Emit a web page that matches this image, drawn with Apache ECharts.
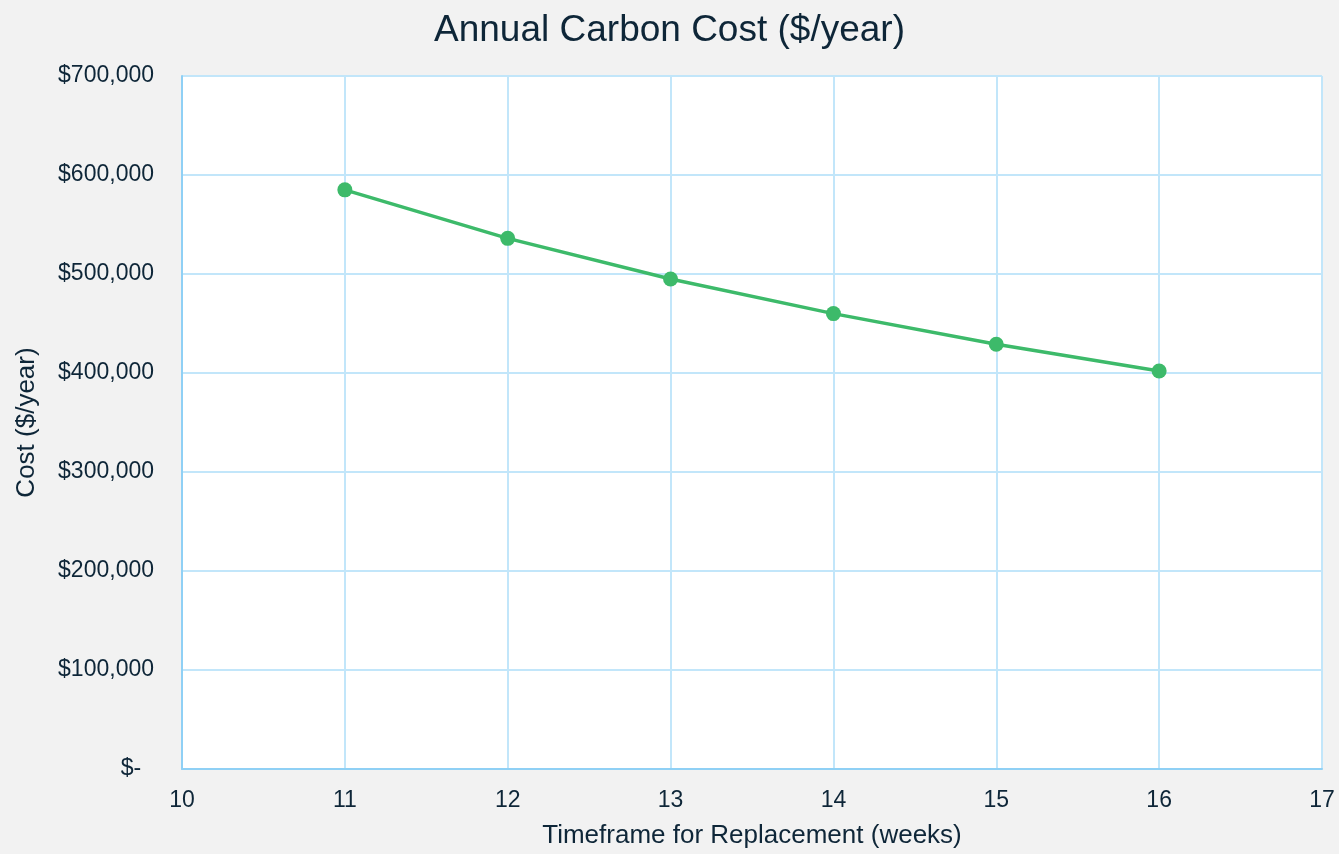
<!DOCTYPE html>
<html>
<head>
<meta charset="utf-8">
<script src="https://cdn.jsdelivr.net/npm/echarts@6/dist/echarts.min.js"></script>
<style>
  html, body { margin: 0; padding: 0; background: #f2f2f2; }
  #chart { width: 1339px; height: 854px; }
</style>
</head>
<body>
<div id="chart"></div>
<script>
// Replacement timeframe (weeks) vs annual carbon cost
const weeks = [11, 12, 13, 14, 15, 16];
const costs = [585000, 536000, 495000, 460000, 429000, 402000];

const textColor = '#0e2638';
const font = "'Liberation Sans', Arial, sans-serif";

const chart = echarts.init(document.getElementById('chart'));

chart.setOption({
  backgroundColor: '#f2f2f2',
  animation: false,
  title: {
    text: 'Annual Carbon Cost ($/year)',
    left: 'center',
    top: 7,
    textStyle: { color: textColor, fontSize: 37, fontWeight: 'normal', fontFamily: font },
  },
  grid: { left: 182, right: 17, top: 76, bottom: 81, backgroundColor: '#ffffff', show: true, borderWidth: 0 },
  xAxis: {
    type: 'value',
    min: 10,
    max: 17,
    interval: 1,
    name: 'Timeframe for Replacement (weeks)',
    nameLocation: 'middle',
    nameGap: 54,
    nameTextStyle: { color: textColor, fontSize: 26, fontFamily: font },
    axisLine: { show: true, lineStyle: { color: '#8fd0f5', width: 2 } },
    axisTick: { show: false },
    axisLabel: { color: textColor, fontSize: 23, fontFamily: font, margin: 20 },
    splitLine: { show: true, lineStyle: { color: '#c2e6fa', width: 2 } },
  },
  yAxis: {
    type: 'value',
    min: 0,
    max: 700000,
    interval: 100000,
    name: 'Cost ($/year)',
    nameLocation: 'middle',
    nameGap: 142,
    nameTextStyle: { color: textColor, fontSize: 26, fontFamily: font },
    axisLine: { show: true, lineStyle: { color: '#8fd0f5', width: 2 } },
    axisTick: { show: false },
    axisLabel: {
      color: textColor,
      fontSize: 23,
      fontFamily: font,
      margin: 28,
      formatter: v => v === 0 ? '$-  ' : '$' + v.toLocaleString('en-US'),
    },
    splitLine: { show: true, lineStyle: { color: '#c2e6fa', width: 2 } },
  },
  series: [{
    type: 'line',
    data: weeks.map((w, i) => [w, costs[i]]),
    symbol: 'circle',
    symbolSize: 15,
    itemStyle: { color: '#3dba6a' },
    lineStyle: { color: '#3dba6a', width: 3.5 },
  }],
});
</script>
</body>
</html>
